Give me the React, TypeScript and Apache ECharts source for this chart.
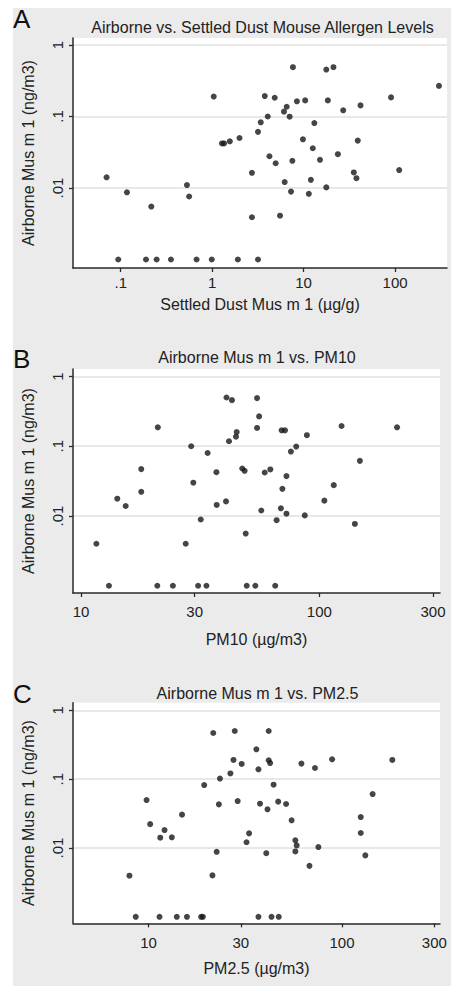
import React, { useEffect, useRef } from "react";
import * as echarts from "echarts";

// Panel A: settled dust (µg/g) vs airborne Mus m 1 (ng/m3)
const dustX = [1.04, 0.07, 0.117, 0.216, 0.53, 0.56, 1.28, 1.35, 1.56, 1.99, 2.72, 2.72, 3.17, 3.4,
  0.094, 0.189, 0.247, 0.354, 0.675, 0.99, 1.91, 3.17,
  7.64, 17.7, 21.2, 302, 3.76, 4.83, 90.4, 8.45, 10.4, 18.4, 6.53, 6.1, 27.1, 41.9, 4.05, 7.03,
  13.1, 9.83, 39.1, 12.6, 4.23, 4.95, 7.53, 15.1, 23.7, 35.4, 37.8, 111, 6.21, 12.0, 7.28, 11.4, 17.7, 5.52];
const dustY = [0.19, 0.0141, 0.0087, 0.0055, 0.011, 0.0076, 0.042, 0.042, 0.045, 0.05, 0.0163, 0.0039, 0.061, 0.083,
  0.001, 0.001, 0.001, 0.001, 0.001, 0.001, 0.001, 0.001,
  0.489, 0.453, 0.489, 0.268, 0.193, 0.183, 0.185, 0.163, 0.168, 0.168, 0.137, 0.117, 0.122, 0.143, 0.1, 0.0993,
  0.081, 0.048, 0.046, 0.036, 0.0278, 0.0222, 0.024, 0.0248, 0.0297, 0.0165, 0.0137, 0.0178, 0.0121, 0.013, 0.0089, 0.0083, 0.0102, 0.0041];

// Panel B: PM10 (µg/m3) vs airborne Mus m 1
const pm10X = [11.6, 13.1, 14.2, 15.4, 17.9, 17.9, 21.0, 20.9, 24.3, 27.5, 29.0, 29.6, 31.8, 31.0, 33.6,
  34.0, 37.0, 37.1, 40.6, 40.8, 43.0, 41.8, 45.0, 44.7, 47.5, 48.6, 49.1, 49.6, 53.9, 54.8, 55.9, 54.8,
  69.5, 71.8, 88.7, 124, 212, 80.0, 76.0, 148, 59.0, 62.3, 72.8, 70.0, 115, 105, 57.1, 69.0, 72.8, 66.2, 86.9, 141, 65.3];
const pm10Y = [0.004, 0.001, 0.0177, 0.0139, 0.047, 0.0222, 0.187, 0.001, 0.001, 0.004, 0.1, 0.03, 0.0089, 0.001, 0.001,
  0.08, 0.0425, 0.0144, 0.0162, 0.5, 0.458, 0.118, 0.16, 0.137, 0.048, 0.0444, 0.0056, 0.001, 0.001, 0.49, 0.268, 0.183,
  0.169, 0.169, 0.144, 0.195, 0.187, 0.099, 0.084, 0.0617, 0.042, 0.0465, 0.0373, 0.0245, 0.0277, 0.0166, 0.012, 0.0129, 0.0108, 0.0087, 0.0102, 0.0077, 0.001];

// Panel C: PM2.5 (µg/m3) vs airborne Mus m 1
const pm25X = [7.97, 8.59, 9.77, 10.2, 11.5, 12.1, 13.2, 11.4, 14.0, 15.8, 18.7, 19.1, 14.9, 19.4, 21.6, 22.5, 21.4,
  23.1, 23.4, 26.5, 27.9, 27.5, 30.3, 28.9, 32.1, 33.1, 36.1, 37.0, 37.7, 37.0,
  41.8, 41.8, 42.5, 61.7, 72.5, 88.9, 182, 44.3, 144, 46.8, 51.4, 41.2, 54.9, 125, 125, 57.4, 58.3, 57.4, 75.5, 40.6, 67.9, 132, 43.2, 47.1];
const pm25Y = [0.00396, 0.001, 0.0497, 0.0222, 0.0141, 0.0182, 0.0143, 0.001, 0.001, 0.001, 0.001, 0.001, 0.0305, 0.082, 0.468, 0.0088, 0.004,
  0.043, 0.102, 0.121, 0.5, 0.19, 0.166, 0.048, 0.0121, 0.0163, 0.271, 0.139, 0.044, 0.001,
  0.5, 0.188, 0.171, 0.168, 0.145, 0.194, 0.19, 0.083, 0.0607, 0.0471, 0.0435, 0.0364, 0.0252, 0.0281, 0.0165, 0.0129, 0.0109, 0.0089, 0.0103, 0.0084, 0.0055, 0.0078, 0.001, 0.001];

const yTickValues = [1, 0.1, 0.01];
const dustTickValues = [0.1, 1, 10, 100];
const pmTickValues = [10, 30, 100, 300];

const titles = [
  "Airborne vs. Settled Dust Mouse Allergen Levels",
  "Airborne Mus m 1 vs. PM10",
  "Airborne Mus m 1 vs. PM2.5",
];
const panelLetters = ["A", "B", "C"];
const yName = "Airborne Mus m 1 (ng/m3)";
const xNames = ["Settled Dust Mus m 1 (\u00b5g/g)", "PM10 (\u00b5g/m3)", "PM2.5 (\u00b5g/m3)"];

const FONT = "'Liberation Sans', Arial, sans-serif";
const L = Math.log10;
const fmt = (v: number) => {
  const val = Number(Math.pow(10, v).toPrecision(1));
  return String(val).replace(/^0\./, ".");
};

export default function App() {
  const ref = useRef<HTMLDivElement>(null);
  useEffect(() => {
    if (!ref.current) return;
    const chart = echarts.init(ref.current, undefined, { renderer: "svg" });

    const grids = [
      { left: 73, top: 38, width: 374, height: 230 },
      { left: 73, top: 369, width: 367, height: 224 },
      { left: 73, top: 702.7, width: 367, height: 220.6 },
    ];
    const xRanges = [[-1.522, 2.568], [0.9664, 2.5065], [0.6098, 2.5064]];
    const yRanges = [[-3.119, 0.098], [-3.104, 0.1075], [-3.094, 0.11]];
    const xTicks = [dustTickValues, pmTickValues, pmTickValues];
    const xLabelMargin = [7, 11, 12];
    const xNameGap = [28, 38, 37];
    const seriesData = [[dustX, dustY], [pm10X, pm10Y], [pm25X, pm25Y]];
    const titleY = [27, 357.7, 693];
    const titleX = [262.5, 257, 257.5];
    const letterY = [19, 358.5, 693.5];

    const axisLine = { show: true, onZero: false, lineStyle: { color: "#2a2a2a", width: 1.5 } };
    const axisTickStyle = { color: "#2a2a2a", width: 1.3 };

    const option: any = {
      animation: false,
      backgroundColor: "#ebebeb",
      textStyle: { fontFamily: FONT },
      grid: grids.map((g) => ({ ...g, show: true, backgroundColor: "#ffffff", borderWidth: 0 })),
      xAxis: grids.map((_, i) => ({
        type: "value",
        gridIndex: i,
        min: xRanges[i][0],
        max: xRanges[i][1],
        axisLine,
        axisTick: { show: true, length: 4, customValues: xTicks[i].map(L), lineStyle: axisTickStyle },
        axisLabel: {
          customValues: xTicks[i].map(L),
          formatter: (v: number) => fmt(v),
          fontSize: 15,
          color: "#222",
          fontFamily: FONT,
          margin: xLabelMargin[i],
        },
        splitLine: { show: false },
        name: xNames[i],
        nameLocation: "middle",
        nameGap: xNameGap[i],
        nameTextStyle: { fontSize: 16, color: "#222", fontFamily: FONT },
      })),
      yAxis: grids.map((_, i) => ({
        type: "value",
        gridIndex: i,
        min: yRanges[i][0],
        max: yRanges[i][1],
        axisLine,
        axisTick: { show: true, length: 4, customValues: yTickValues.map(L), lineStyle: axisTickStyle },
        axisLabel: {
          customValues: yTickValues.map(L),
          formatter: (v: number) => fmt(v),
          rotate: 90,
          fontSize: 15,
          color: "#222",
          fontFamily: FONT,
          margin: 8,
        },
        splitLine: { show: true, lineStyle: { color: "#e0e0e0", width: 1.5 } },
        name: yName,
        nameLocation: "middle",
        nameGap: 37,
        nameTextStyle: { fontSize: 16, color: "#222", fontFamily: FONT },
      })),
      series: seriesData.map(([xs, ys], i) => ({
        type: "scatter",
        xAxisIndex: i,
        yAxisIndex: i,
        symbol: "circle",
        symbolSize: 6,
        itemStyle: { color: "#161616" },
        data: xs.map((x, k) => [L(x), L(ys[k])]),
      })),
      graphic: [
        { type: "rect", shape: { x: 0, y: 0, width: 13, height: 986 }, style: { fill: "#ffffff" }, silent: true },
        { type: "rect", shape: { x: 0, y: 0, width: 451, height: 8 }, style: { fill: "#ffffff" }, silent: true },
        ...titles.map((t, i) => ({
          type: "text",
          x: titleX[i],
          y: titleY[i],
          style: { text: t, fontSize: 16, fontFamily: FONT, fill: "#222", textAlign: "center", textVerticalAlign: "middle" },
        })),
        ...panelLetters.map((t, i) => ({
          type: "text",
          x: 13,
          y: letterY[i],
          style: { text: t, fontSize: 26, fontFamily: FONT, fill: "#111", textAlign: "left", textVerticalAlign: "middle" },
        })),
      ],
    };
    chart.setOption(option);
    return () => chart.dispose();
  }, []);
  return <div ref={ref} style={{ position: "absolute", left: 0, top: 0, width: 451, height: 986 }} />;
}
